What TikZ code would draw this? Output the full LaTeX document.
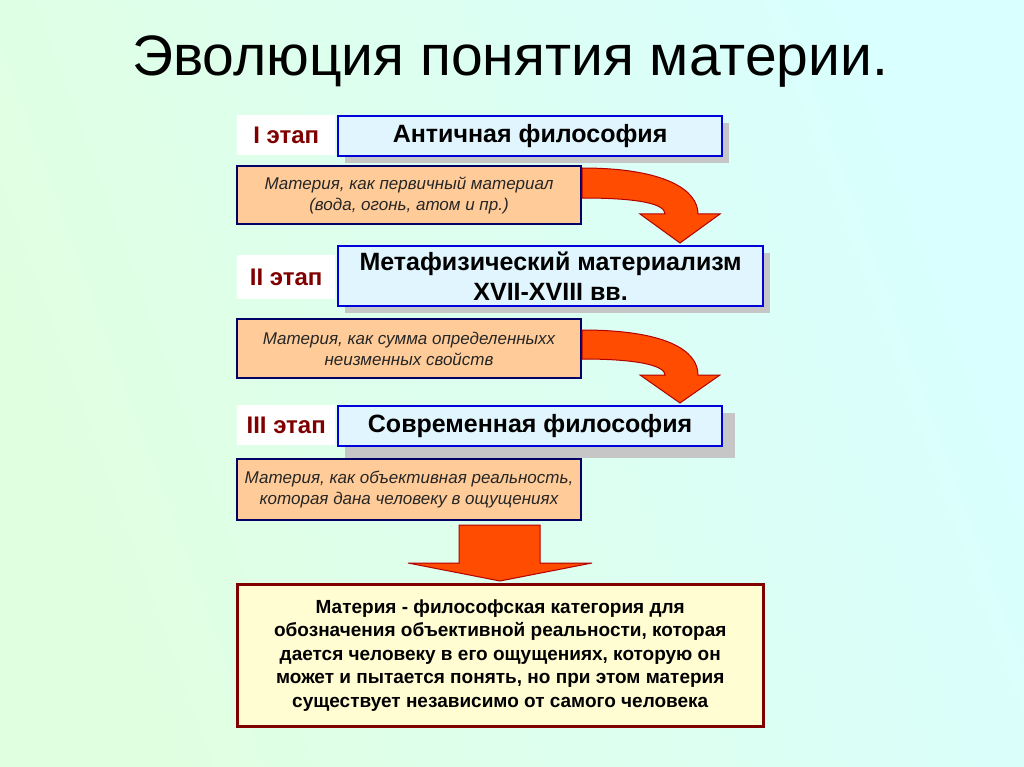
\documentclass[tikz,border=0pt]{standalone}
\usepackage{fontspec}
\setmainfont{Liberation Sans}
\begin{document}
\begin{tikzpicture}[x=1pt,y=-1pt,
  stage/.style={fill=white,text=red!50!black,font=\bfseries\fontsize{24}{28}\selectfont,anchor=north west,minimum height=40,inner sep=1pt},
  topic/.style={draw=blue!85!black,line width=2.2pt,fill=cyan!12,font=\bfseries\fontsize{25}{30}\selectfont,align=center,anchor=north west},
  idea/.style={draw=blue!40!black,line width=2pt,fill=orange!40!white,font=\itshape\fontsize{17}{21}\selectfont,align=center,anchor=north west,minimum width=344,text=black!85,inner sep=1pt},
  shadowbox/.style={fill=gray!45},
  bigarrow/.style={fill=orange!60!red,draw=red!70!black,line width=1pt}]
\useasboundingbox (0,0) rectangle (1024,767);
\shade[left color=green!12!white, right color=cyan!15!white, shading angle=110] (0,0) rectangle (1024,767);
\node (title) at (510,62) {\fontsize{57}{64}\selectfont Эволюция понятия материи.};
% stage 1
\fill[shadowbox] (345,123) rectangle (729,163);
\node[stage,minimum width=98] (s1) at (237,115) {I этап};
\node[topic,minimum width=384,minimum height=40] (t1) at (337,115) {Античная философия};
\node[idea,minimum height=58] (i1) at (236,165) {Материя, как первичный материал\\(вода, огонь, атом и пр.)};
\path[bigarrow] (582,168) .. controls (665,168) and (698,190) .. (698,214) -- (720,214) -- (680,243) -- (640,214) -- (665,214) .. controls (665,204) and (640,198) .. (582,198) -- cycle;
% stage 2
\fill[shadowbox] (345,253) rectangle (770,313);
\node[stage,minimum width=98,minimum height=44] (s2) at (237,255) {II этап};
\node[topic,minimum width=425,minimum height=60] (t2) at (337,245) {Метафизический материализм\\XVII-XVIII вв.};
\node[idea,minimum height=59] (i2) at (236,318) {Материя, как сумма определенныхх\\неизменных свойств};
\path[bigarrow] (582,330) .. controls (665,330) and (698,350) .. (698,375) -- (720,375) -- (680,403) -- (640,375) -- (665,375) .. controls (665,366) and (640,359) .. (582,359) -- cycle;
% stage 3
\fill[shadowbox] (345,413) rectangle (735,458);
\node[stage,minimum width=98] (s3) at (237,405) {III этап};
\node[topic,minimum width=384,minimum height=40] (t3) at (337,405) {Современная философия};
\node[idea,minimum height=61] (i3) at (236,458) {Материя, как объективная реальность,\\которая дана человеку в ощущениях};
\path[bigarrow] (459,525) -- (540,525) -- (540,563) -- (592,563) -- (500,581) -- (408,563) -- (459,563) -- cycle;
% final
\node[draw=red!50!black,line width=2.5pt,fill=yellow!18!white,anchor=north west,minimum width=526,minimum height=142,align=center,inner sep=1pt,font=\bfseries\fontsize{19}{23.5}\selectfont] (fin) at (236,583) {Материя - философская категория для\\обозначения объективной реальности, которая\\дается человеку в его ощущениях, которую он\\может и пытается понять, но при этом материя\\существует независимо от самого человека};
\end{tikzpicture}
\end{document}
